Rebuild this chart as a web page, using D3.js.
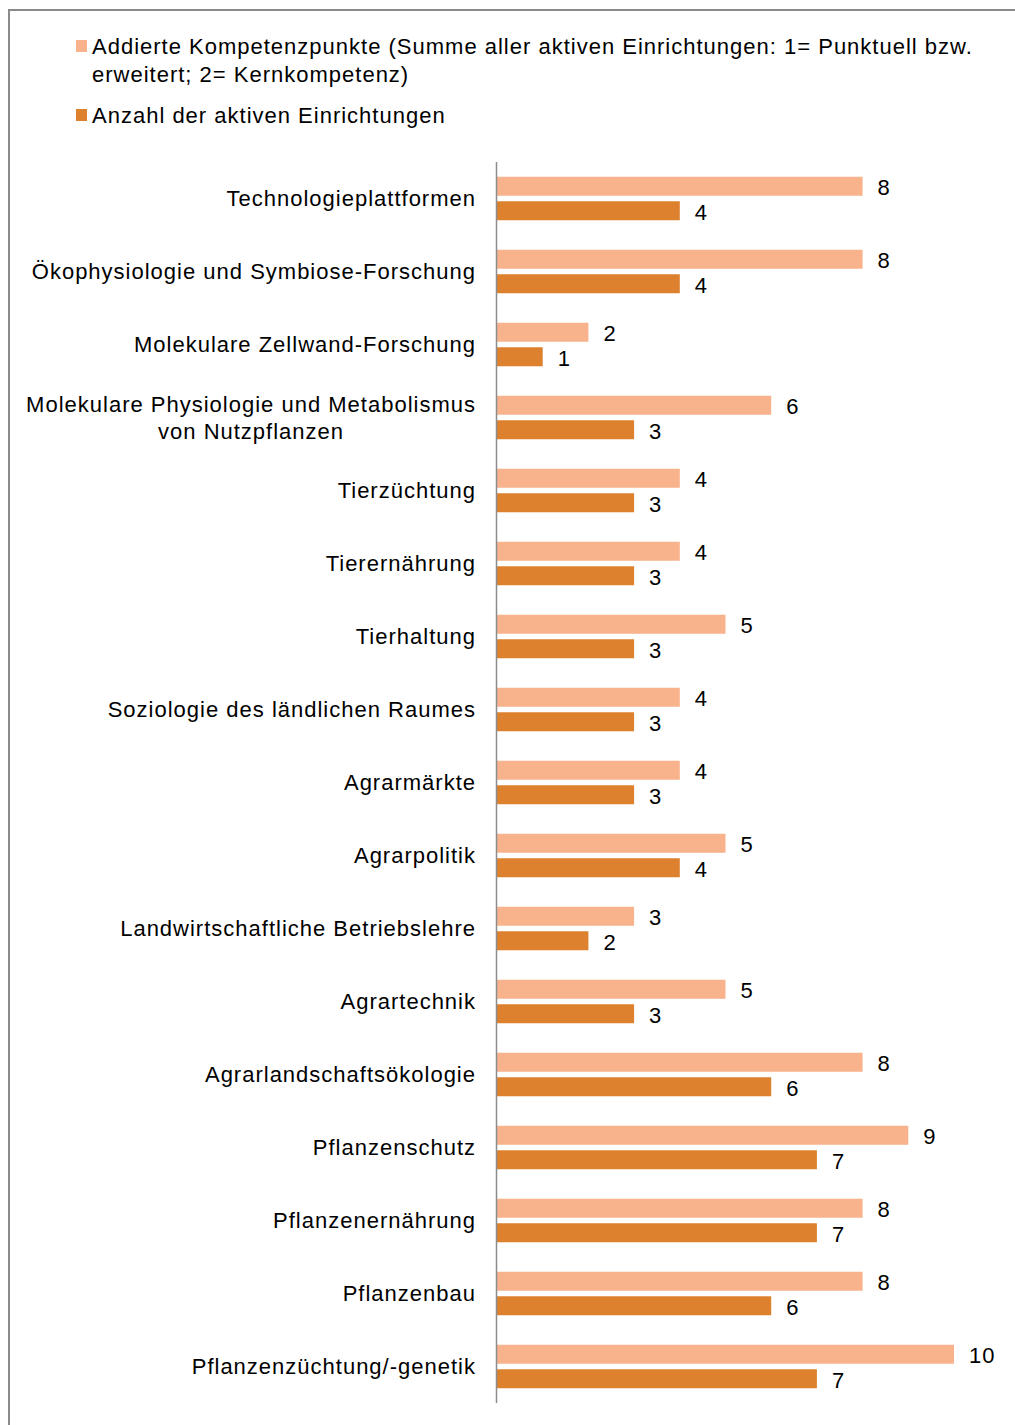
<!DOCTYPE html>
<html>
<head>
<meta charset="utf-8">
<script src="https://cdn.jsdelivr.net/npm/d3@7"></script>
<style>
  body { margin: 0; background: #fff; }
  svg { display: block; font-family: "Liberation Sans", Arial, sans-serif; letter-spacing: 1px; }
</style>
</head>
<body>
<div id="chart"></div>
<script>
// categories, top to bottom
var categories = [
  "Technologieplattformen",
  "Ökophysiologie und Symbiose-Forschung",
  "Molekulare Zellwand-Forschung",
  "Molekulare Physiologie und Metabolismus|von Nutzpflanzen",
  "Tierzüchtung",
  "Tierernährung",
  "Tierhaltung",
  "Soziologie des ländlichen Raumes",
  "Agrarmärkte",
  "Agrarpolitik",
  "Landwirtschaftliche Betriebslehre",
  "Agrartechnik",
  "Agrarlandschaftsökologie",
  "Pflanzenschutz",
  "Pflanzenernährung",
  "Pflanzenbau",
  "Pflanzenzüchtung/-genetik"
];
var kompetenzpunkte = [8, 8, 2, 6, 4, 4, 5, 4, 4, 5, 3, 5, 8, 9, 8, 8, 10];
var einrichtungen   = [4, 4, 1, 3, 3, 3, 3, 3, 3, 4, 2, 3, 6, 7, 7, 6, 7];
var seriesNames = [
  ["Addierte Kompetenzpunkte (Summe aller aktiven Einrichtungen: 1= Punktuell bzw.", "erweitert; 2= Kernkompetenz)"],
  ["Anzahl der aktiven Einrichtungen"]
];
var colours = ["#f8b38c", "#dd812f"];

var width = 1015, height = 1425;
var svg = d3.select("#chart").append("svg").attr("width", width).attr("height", height);

// outer frame (cut off on right and bottom)
svg.append("rect")
  .attr("x", 9).attr("y", 10).attr("width", 1040).attr("height", 1440)
  .attr("fill", "none").attr("stroke", "#8a8a8a").attr("stroke-width", 2);

var x0 = 497;
var xx = d3.scaleLinear().domain([0, 10]).range([x0, x0 + 457]);
var yy = d3.scaleBand().domain(d3.range(categories.length)).range([162, 1403]);
var barH = 19, gap = 5.5;

var rows = svg.selectAll("g.row").data(categories).enter().append("g")
  .attr("class", "row")
  .attr("transform", function(d, i) { return "translate(0," + yy(i) + ")"; });

var mid = yy.bandwidth() / 2;
var series = [kompetenzpunkte, einrichtungen];
series.forEach(function(vals, s) {
  var top = s === 0 ? mid - gap / 2 - barH : mid + gap / 2;
  rows.append("rect")
    .attr("x", x0)
    .attr("y", top)
    .attr("width", function(d, i) { return xx(vals[i]) - x0; })
    .attr("height", barH)
    .attr("fill", colours[s]);
  rows.append("text")
    .attr("x", function(d, i) { return xx(vals[i]) + 15; })
    .attr("y", top + barH / 2 + 1)
    .attr("dy", "0.36em")
    .attr("font-size", 22)
    .attr("fill", "#000")
    .text(function(d, i) { return vals[i]; });
});

// category labels, right aligned as a block, lines centred within the block
rows.each(function(d) {
  var g = d3.select(this);
  var lines = d.split("|");
  var t = g.append("text").attr("font-size", 22).attr("fill", "#000");
  var lh = 27;
  var y0 = mid - (lines.length - 1) * lh / 2;
  var spans = lines.map(function(l, k) {
    return t.append("tspan").attr("y", y0 + k * lh).attr("dy", "0.36em").text(l);
  });
  var w = d3.max(spans, function(s) { return s.node().getComputedTextLength(); });
  var right = 476;
  spans.forEach(function(s) {
    s.attr("text-anchor", "middle").attr("x", right - w / 2);
  });
});

// axis line
svg.append("line")
  .attr("x1", x0 - 0.5).attr("x2", x0 - 0.5)
  .attr("y1", 162).attr("y2", 1403)
  .attr("stroke", "#8c8c8c").attr("stroke-width", 1.5);

// legend
var legendY = [46, 115];
seriesNames.forEach(function(lines, s) {
  var lg = svg.append("g").attr("transform", "translate(0," + legendY[s] + ")");
  lg.append("rect").attr("x", 76).attr("y", -6).attr("width", 11).attr("height", 12).attr("fill", colours[s]);
  var t = lg.append("text").attr("font-size", 22).attr("fill", "#000");
  lines.forEach(function(l, k) {
    t.append("tspan").attr("x", 92).attr("y", k * 28).attr("dy", "0.36em").text(l);
  });
});
</script>
</body>
</html>
